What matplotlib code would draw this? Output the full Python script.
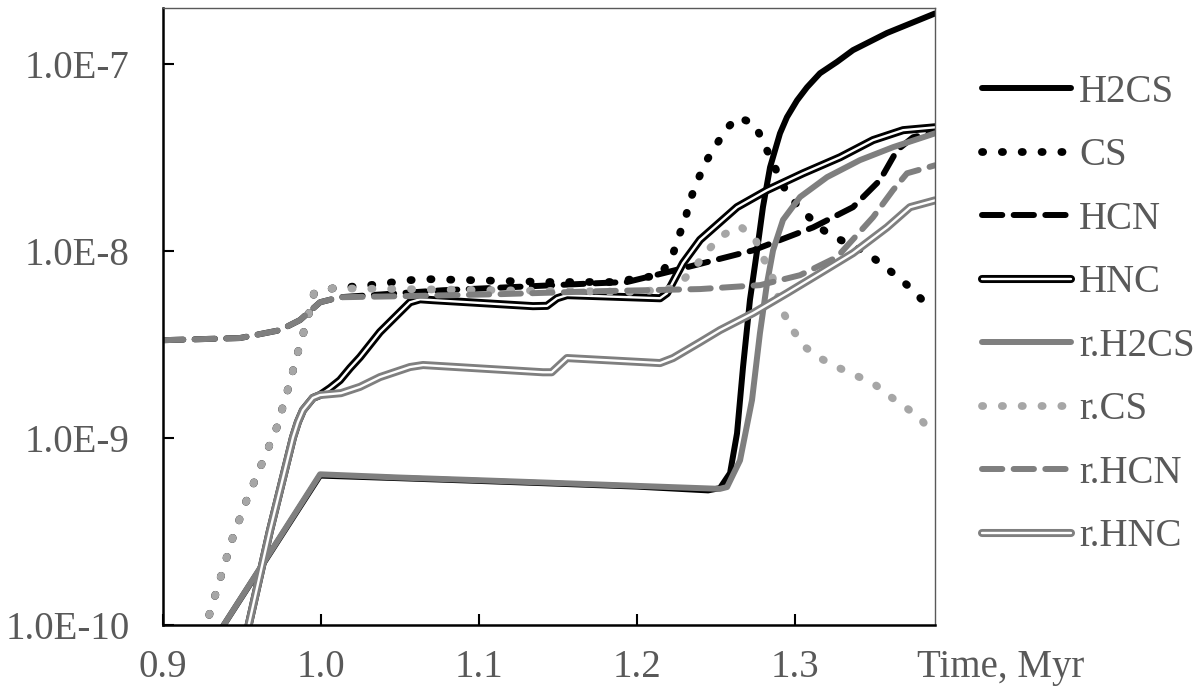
import matplotlib
matplotlib.use("Agg")
import matplotlib.pyplot as plt
import matplotlib.patheffects as pe
from matplotlib.ticker import FixedLocator, NullLocator

# ---------------- data (time in Myr, fractional abundance) ----------------
h2cs_t = [0.935, 0.9994, 1.05, 1.10, 1.15, 1.20, 1.245, 1.2525, 1.2589, 1.2633, 1.2671, 1.2715,
          1.276, 1.2797, 1.2842, 1.2905, 1.2949, 1.3013, 1.3076, 1.3158, 1.3266, 1.3367, 1.3582, 1.3886]
h2cs_y = [9.0e-11, 6.3e-10, 6.1e-10, 5.9e-10, 5.7e-10, 5.5e-10, 5.25e-10, 5.4e-10, 6.5e-10, 1.06e-9,
          2.4e-9, 5.5e-9, 1.01e-8, 1.72e-8, 2.81e-8, 4.27e-8, 5.21e-8, 6.41e-8, 7.53e-8, 8.95e-8,
          1.03e-7, 1.19e-7, 1.47e-7, 1.87e-7]

cs_t = [0.925, 0.9297, 0.9373, 0.9443, 0.9532, 0.9627, 0.9722, 0.9791, 0.9854, 0.9924, 0.9956,
        1.0076, 1.031, 1.0563, 1.069, 1.0943, 1.1177, 1.143, 1.1848, 1.2146, 1.2222, 1.2259,
        1.2304, 1.2335, 1.238, 1.243, 1.2494, 1.2557, 1.2639, 1.2747, 1.2797, 1.2854, 1.2899,
        1.2956, 1.3063, 1.3146, 1.3222, 1.3335, 1.3456, 1.3557, 1.3652, 1.3747, 1.3829]
cs_y = [9.0e-11, 1.16e-10, 1.9e-10, 2.96e-10, 4.72e-10, 7.35e-10, 1.15e-9, 1.83e-9, 2.88e-9, 4.66e-9,
        5.96e-9, 6.33e-9, 6.58e-9, 7.0e-9, 7.08e-9, 7.0e-9, 6.92e-9, 6.84e-9, 6.84e-9, 7.44e-9,
        9.3e-9, 1.17e-8, 1.47e-8, 1.87e-8, 2.34e-8, 2.96e-8, 3.6e-8, 4.44e-8, 5.21e-8, 4.78e-8,
        3.83e-8, 3.07e-8, 2.49e-8, 1.99e-8, 1.6e-8, 1.36e-8, 1.22e-8, 1.1e-8, 9.76e-9, 8.4e-9,
        7.26e-9, 6.18e-9, 5.21e-9]

hcn_t = [0.9, 0.9487, 0.9741, 0.9867, 0.9994, 1.012, 1.0772, 1.1766, 1.1937, 1.2165, 1.2418,
         1.2734, 1.3114, 1.3367, 1.3538, 1.3646, 1.3747, 1.3886]
hcn_y = [3.34e-9, 3.43e-9, 3.78e-9, 4.28e-9, 5.33e-9, 5.67e-9, 6.18e-9, 6.75e-9, 6.84e-9, 7.62e-9,
         8.63e-9, 1.01e-8, 1.34e-8, 1.72e-8, 2.4e-8, 3.47e-8, 4.07e-8, 4.33e-8]

hnc_t = [0.953, 0.9677, 0.9823, 0.9854, 0.9886, 0.9949, 0.9994, 1.0057, 1.012, 1.0184, 1.0247,
         1.0373, 1.05, 1.0563, 1.0627, 1.0709, 1.1342, 1.143, 1.1494, 1.1557, 1.2146, 1.219,
         1.2291, 1.2399, 1.2633, 1.2823, 1.3051, 1.3285, 1.3494, 1.3684, 1.3886]
hnc_y = [9.0e-11, 3.2e-10, 1.01e-9, 1.22e-9, 1.41e-9, 1.64e-9, 1.7e-9, 1.85e-9, 2.04e-9, 2.37e-9,
         2.71e-9, 3.69e-9, 4.72e-9, 5.33e-9, 5.53e-9, 5.47e-9, 5.08e-9, 5.1e-9, 5.6e-9, 5.82e-9,
         5.6e-9, 5.96e-9, 8.63e-9, 1.15e-8, 1.72e-8, 2.12e-8, 2.61e-8, 3.18e-8, 3.93e-8, 4.44e-8,
         4.6e-8]

rh2cs_t = [0.935, 0.9994, 1.05, 1.10, 1.15, 1.20, 1.2525, 1.257, 1.2652, 1.2728, 1.2778, 1.2823,
           1.2861, 1.2924, 1.3032, 1.3203, 1.3411, 1.362, 1.3886]
rh2cs_y = [9.0e-11, 6.4e-10, 6.15e-10, 5.95e-10, 5.75e-10, 5.55e-10, 5.35e-10, 5.47e-10, 7.6e-10,
           1.6e-9, 3.64e-9, 6.75e-9, 1.01e-8, 1.47e-8, 1.95e-8, 2.49e-8, 3.07e-8, 3.6e-8, 4.27e-8]

rcs_t = [0.925, 0.9297, 0.9373, 0.9443, 0.9532, 0.9627, 0.9722, 0.9791, 0.9854, 0.9924, 0.9956,
         1.0076, 1.10, 1.20, 1.2206, 1.2304, 1.2386, 1.2462, 1.2544, 1.2652, 1.2747, 1.2797,
         1.2854, 1.2886, 1.2924, 1.2987, 1.3063, 1.3158, 1.3266, 1.338, 1.3494, 1.3589, 1.3696,
         1.3791, 1.3867]
rcs_y = [9.0e-11, 1.16e-10, 1.9e-10, 2.96e-10, 4.72e-10, 7.35e-10, 1.15e-9, 1.83e-9, 2.88e-9,
         4.66e-9, 5.96e-9, 6.33e-9, 6.2e-9, 6.05e-9, 6.3e-9, 7.18e-9, 8.63e-9, 1.04e-8, 1.22e-8,
         1.36e-8, 1.17e-8, 9.3e-9, 7.44e-9, 5.96e-9, 4.72e-9, 3.78e-9, 3.07e-9, 2.68e-9, 2.4e-9,
         2.17e-9, 1.97e-9, 1.7e-9, 1.47e-9, 1.28e-9, 1.06e-9]

rhcn_t = [0.9, 0.9487, 0.9741, 0.9867, 0.9994, 1.012, 1.05, 1.1133, 1.1766, 1.2399, 1.2778,
          1.3032, 1.3266, 1.3494, 1.362, 1.3709, 1.3886]
rhcn_y = [3.34e-9, 3.43e-9, 3.78e-9, 4.28e-9, 5.33e-9, 5.67e-9, 5.74e-9, 5.89e-9, 6.11e-9,
          6.27e-9, 6.58e-9, 7.44e-9, 9.3e-9, 1.52e-8, 2.12e-8, 2.61e-8, 2.88e-8]

rhnc_t = [0.953, 0.9677, 0.9823, 0.9854, 0.9886, 0.9949, 0.9994, 1.0127, 1.0247, 1.0373, 1.0563,
          1.0646, 1.1405, 1.146, 1.1557, 1.2146, 1.2228, 1.2399, 1.2525, 1.2734, 1.2949, 1.3158,
          1.3367, 1.3582, 1.3728, 1.3886]
rhnc_y = [9.0e-11, 3.2e-10, 1.01e-9, 1.22e-9, 1.41e-9, 1.64e-9, 1.7e-9, 1.74e-9, 1.88e-9, 2.12e-9,
          2.4e-9, 2.46e-9, 2.25e-9, 2.25e-9, 2.68e-9, 2.52e-9, 2.68e-9, 3.26e-9, 3.78e-9, 4.66e-9,
          5.96e-9, 7.62e-9, 9.76e-9, 1.34e-8, 1.72e-8, 1.87e-8]

x_ticks = [0.9, 1.0, 1.1, 1.2, 1.3]
x_ticklabels = ["0.9", "1.0", "1.1", "1.2", "1.3"]
y_ticks = [1e-10, 1e-9, 1e-8, 1e-7]
y_ticklabels = ["1.0E-10", "1.0E-9", "1.0E-8", "1.0E-7"]
x_title = "Time, Myr"

# ---------------- styling ----------------
plt.rcParams["font.family"] = ["Liberation Serif", "DejaVu Serif"]
TXT = "#595959"
FS = 28
BLACK = "#000000"
GRAY = "#7f7f7f"
LGRAY = "#a6a6a6"

fig = plt.figure(figsize=(12, 6.95), dpi=100)
ax = fig.add_axes([163 / 1200, 1 - 625 / 695, 772 / 1200, 617 / 695])

LW = 4.3
LWD = 5.6
dots = (0, (0.15, 2.4))
dashes = (0, (3.4, 1.9))

def dbl(color, outer=5.8, inner=1.7):
    return dict(color="white", lw=inner, solid_capstyle="round",
                path_effects=[pe.Stroke(linewidth=outer, foreground=color, capstyle="round"), pe.Normal()])

ax.plot(h2cs_t, h2cs_y, color=BLACK, lw=LW, solid_capstyle="round", label="H2CS")
ax.plot(cs_t, cs_y, color=BLACK, lw=LWD, linestyle=dots, dash_capstyle="round", label="CS")
ax.plot(hcn_t, hcn_y, color=BLACK, lw=LW, linestyle=dashes, dash_capstyle="round", label="HCN")
ax.plot(hnc_t, hnc_y, label="HNC", **dbl(BLACK))
ax.plot(rh2cs_t, rh2cs_y, color=GRAY, lw=LW, solid_capstyle="round", label="r.H2CS")
ax.plot(rcs_t, rcs_y, color=LGRAY, lw=LWD, linestyle=dots, dash_capstyle="round", label="r.CS")
ax.plot(rhcn_t, rhcn_y, color=GRAY, lw=LW, linestyle=dashes, dash_capstyle="round", label="r.HCN")
ax.plot(rhnc_t, rhnc_y, label="r.HNC", **dbl(GRAY))

ax.set_yscale("log")
ax.set_xlim(0.9, 1.3886)
ax.set_ylim(1e-10, 2.0e-7)

ax.xaxis.set_major_locator(FixedLocator(x_ticks))
ax.set_xticklabels(x_ticklabels)
ax.yaxis.set_major_locator(FixedLocator(y_ticks))
ax.set_yticklabels(y_ticklabels)
ax.yaxis.set_minor_locator(NullLocator())
ax.xaxis.set_minor_locator(NullLocator())

XPAD = 17
ax.tick_params(axis="both", direction="in", length=8, width=1.5, color="black",
               labelsize=FS, labelcolor=TXT)
ax.tick_params(axis="x", pad=XPAD)
ax.tick_params(axis="y", pad=24)

for s in ("left", "bottom"):
    ax.spines[s].set_color("black")
    ax.spines[s].set_linewidth(1.8)
for s in ("top", "right"):
    ax.spines[s].set_color("#595959")
    ax.spines[s].set_linewidth(1.0)

# axis title sitting on the tick-label row, right of the last tick
trans = ax.get_xaxis_text1_transform(XPAD)[0]
ax.text(0.9 + (917 - 163) / 1580, 0, x_title, transform=trans, fontsize=FS, color=TXT,
        ha="left", va="top", clip_on=False)

leg = ax.legend(loc="upper left", bbox_to_anchor=(982 / 1200, 1 - 74 / 695),
                bbox_transform=fig.transFigure, frameon=False, fontsize=FS,
                handlelength=2.3, handletextpad=0.2, labelspacing=0.68,
                borderpad=0, borderaxespad=0)
for t in leg.get_texts():
    t.set_color(TXT)

fig.savefig("out.png", dpi=100)
